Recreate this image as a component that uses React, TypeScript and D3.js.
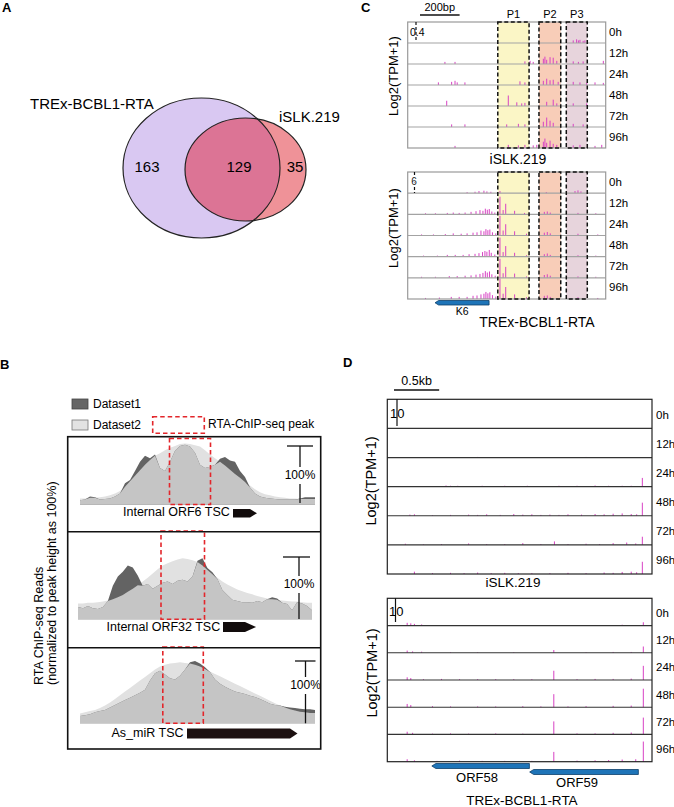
import React from "react";
import * as d3 from "d3";

const FONT = "Arial, 'Liberation Sans', Helvetica, sans-serif";

// ---------- Panel A data ----------
const vennSets = ["TREx-BCBL1-RTA", "iSLK.219"];
const vennCounts = [163, 129, 35]; // TREx only, both, iSLK only

// ---------- Panel B data ----------
const bLegend = ["Dataset1", "Dataset2"];
const bPeakLabel = "RTA-ChIP-seq peak";
const bTrackNames = ["Internal ORF6 TSC", "Internal ORF32 TSC", "As_miR TSC"];
const orf6D1 = [7, 8, 13, 12, 8, 9, 10, 13, 18, 35, 40, 55, 70, 80, 76, 82, 60, 55, 70, 88, 96, 98, 95, 85, 65, 60, 62, 65, 75, 78, 72, 70, 55, 45, 28, 18, 13, 11, 10, 9, 8, 8, 8, 8, 10, 12, 12, 12];
const orf6D2 = [10, 10, 11, 11, 12, 13, 15, 18, 22, 29, 38, 47, 56, 65, 73, 80, 84, 89, 93, 96, 99, 100, 99, 97, 95, 89, 82, 76, 70, 64, 57, 50, 44, 37, 31, 25, 20, 17, 15, 13, 12, 11, 10, 10, 9, 9, 9, 9];
const orf32D1 = [20, 18, 22, 18, 17, 20, 30, 55, 70, 78, 88, 85, 72, 55, 58, 50, 55, 60, 62, 58, 63, 65, 62, 70, 96, 100, 84, 77, 66, 48, 40, 32, 30, 28, 28, 27, 30, 28, 33, 36, 34, 27, 25, 15, 28, 26, 22, 15];
const orf32D2 = [26, 26, 27, 27, 28, 29, 31, 33, 36, 40, 45, 50, 56, 62, 68, 75, 82, 88, 92, 95, 98, 100, 99, 97, 94, 88, 81, 74, 68, 62, 57, 53, 49, 46, 43, 41, 38, 36, 34, 33, 32, 31, 30, 29, 29, 28, 27, 27];
const asmirD1 = [12, 13, 15, 18, 20, 22, 26, 30, 34, 38, 42, 46, 50, 55, 70, 82, 86, 80, 74, 72, 78, 88, 100, 102, 98, 92, 84, 72, 65, 60, 56, 52, 50, 48, 45, 43, 40, 36, 32, 30, 29, 27, 26, 25, 24, 23, 23, 22];
const asmirD2 = [16, 18, 20, 22, 25, 29, 34, 40, 46, 52, 58, 64, 70, 76, 82, 88, 93, 96, 98, 99, 100, 99, 98, 96, 93, 89, 85, 81, 77, 73, 69, 65, 61, 57, 53, 49, 45, 41, 37, 33, 29, 26, 23, 21, 19, 18, 17, 17];

// ---------- Panel C data ----------
const hours = ["0h", "12h", "24h", "48h", "72h", "96h"];
const cPeakNames = ["P1", "P2", "P3"];
const cPeakStart = [455, 663, 801];
const cPeakEnd = [613, 773, 907];
const cSpan = 1000;
const cScaleBp = 200;
const cIslkMax = 0.4;
const cTrexMax = 6;
const cIslk: [number, number][][] = [
  [[836, 0.05], [853, 0.07], [862, 0.05], [870, 0.06], [886, 0.04], [895, 0.05]],
  [[188, 0.04], [239, 0.04], [592, 0.05], [618, 0.06], [634, 0.04], [685, 0.1], [693, 0.14], [702, 0.08], [719, 0.13], [735, 0.12], [753, 0.06], [836, 0.05], [862, 0.04], [886, 0.05], [988, 0.06]],
  [[155, 0.05], [222, 0.06], [239, 0.08], [250, 0.05], [289, 0.05], [567, 0.07], [592, 0.05], [685, 0.08], [702, 0.12], [719, 0.09], [735, 0.1], [760, 0.06], [836, 0.06], [870, 0.05], [904, 0.04], [946, 0.05], [988, 0.04]],
  [[197, 0.1], [508, 0.2], [551, 0.07], [576, 0.05], [592, 0.06], [702, 0.08], [735, 0.12], [753, 0.05], [836, 0.05], [904, 0.05]],
  [[222, 0.05], [289, 0.05], [500, 0.05], [559, 0.06], [592, 0.05], [685, 0.1], [702, 0.18], [719, 0.12], [735, 0.08], [836, 0.06], [886, 0.05]],
  [[239, 0.04], [508, 0.06], [559, 0.05], [592, 0.06], [634, 0.05], [652, 0.06], [685, 0.12], [693, 0.18], [702, 0.1], [719, 0.14], [735, 0.08], [753, 0.06], [836, 0.05], [870, 0.06], [946, 0.04], [980, 0.06]],
];
const cTrex: [number, number][][] = [
  [[300, 0.3], [340, 0.4], [360, 0.6], [385, 0.7], [400, 0.5], [420, 0.4], [466, 0.6], [700, 0.3], [845, 0.6], [860, 0.8], [875, 0.5]],
  [[90, 0.3], [140, 0.3], [200, 0.4], [230, 0.5], [260, 0.4], [290, 0.5], [320, 0.7], [345, 0.9], [365, 1.2], [380, 1.0], [392, 1.6], [402, 1.3], [412, 1.5], [425, 0.8], [440, 0.5], [466, 5.0], [482, 1.2], [495, 3.0], [540, 1.0], [590, 0.4], [690, 0.7], [705, 0.8], [720, 0.5], [860, 0.4], [950, 0.3]],
  [[70, 0.3], [130, 0.3], [190, 0.4], [230, 0.6], [270, 0.5], [300, 0.6], [330, 0.8], [350, 0.9], [370, 1.4], [385, 1.2], [395, 1.8], [405, 1.5], [415, 1.7], [428, 0.9], [445, 0.6], [466, 5.6], [482, 1.4], [495, 3.2], [540, 1.2], [600, 0.5], [690, 0.8], [705, 1.0], [720, 0.6], [860, 0.5], [960, 0.3]],
  [[80, 0.3], [150, 0.3], [200, 0.5], [240, 0.5], [280, 0.5], [310, 0.7], [340, 0.8], [360, 1.0], [378, 1.3], [390, 1.6], [400, 1.4], [412, 1.9], [422, 1.1], [440, 0.6], [466, 5.4], [482, 1.3], [495, 3.0], [540, 1.1], [600, 0.4], [690, 0.7], [705, 0.9], [720, 0.5], [860, 0.4], [950, 0.3]],
  [[70, 0.3], [140, 0.3], [210, 0.5], [250, 0.5], [290, 0.6], [320, 0.7], [345, 0.9], [365, 1.1], [380, 1.4], [392, 1.9], [402, 1.5], [413, 1.8], [425, 1.0], [442, 0.6], [466, 5.4], [482, 1.3], [495, 3.1], [540, 1.2], [600, 0.4], [690, 0.8], [705, 1.0], [720, 0.6], [860, 0.4], [950, 0.3]],
  [[90, 0.3], [160, 0.4], [220, 0.6], [260, 0.6], [300, 0.6], [330, 0.9], [350, 1.0], [370, 1.3], [385, 1.5], [395, 2.0], [405, 1.6], [415, 1.9], [428, 1.1], [445, 0.7], [466, 5.8], [482, 1.5], [495, 3.4], [540, 1.3], [600, 0.5], [690, 0.9], [705, 1.0], [720, 0.6], [860, 0.5], [960, 0.3]],
];
const cGeneName = "K6";
const cGeneStart = 138;
const cGeneEnd = 411;

// ---------- Panel D data ----------
const dSpan = 2930;
const dScaleBp = 500;
const dMax = 10;
const dIslk: [number, number][][] = [
  [],
  [[1000, 0.2], [2200, 0.2]],
  [[650, 0.4], [700, 0.3], [780, 0.3], [1050, 0.3], [1300, 0.3], [1420, 0.2], [1550, 0.3], [1750, 0.2], [1900, 0.3], [2100, 0.3], [2300, 0.4], [2450, 0.3], [2600, 0.3], [2700, 0.3], [2823, 3.0]],
  [[250, 0.4], [300, 0.5], [500, 0.2], [700, 0.3], [900, 0.4], [1000, 0.3], [1100, 0.5], [1250, 0.3], [1400, 0.6], [1500, 0.4], [1600, 0.5], [1700, 0.3], [1800, 0.4], [1900, 0.3], [2000, 0.5], [2150, 0.4], [2300, 0.6], [2400, 0.5], [2500, 0.7], [2600, 0.8], [2700, 0.6], [2760, 0.5], [2823, 4.5]],
  [[200, 0.4], [400, 0.2], [600, 0.3], [900, 0.5], [1100, 0.3], [1300, 0.3], [1500, 0.6], [1700, 0.3], [1850, 1.2], [2000, 0.3], [2200, 0.4], [2350, 0.3], [2500, 0.6], [2650, 0.8], [2750, 0.5], [2823, 2.8]],
  [[300, 0.8], [500, 0.3], [700, 0.4], [850, 0.3], [1000, 0.5], [1150, 0.3], [1300, 0.4], [1450, 0.3], [1600, 0.3], [1800, 0.3], [2000, 0.4], [2200, 0.3], [2400, 0.5], [2500, 0.4], [2600, 0.7], [2700, 0.8], [2760, 0.6], [2823, 4.2]],
];
const dTrex: [number, number][][] = [
  [[220, 1.0], [260, 0.8], [300, 0.6], [380, 0.4], [600, 0.2], [1200, 0.2], [1800, 0.2], [2300, 0.2], [2600, 0.3], [2834, 1.2]],
  [[220, 0.8], [280, 0.5], [380, 0.4], [700, 0.2], [1000, 0.2], [1400, 0.2], [1843, 1.0], [2200, 0.2], [2500, 0.3], [2700, 0.3], [2834, 2.3]],
  [[220, 1.0], [260, 0.7], [400, 0.3], [600, 0.4], [800, 0.3], [1000, 0.3], [1200, 0.3], [1400, 0.3], [1600, 0.3], [1843, 3.4], [2100, 0.3], [2300, 0.4], [2500, 0.4], [2700, 0.5], [2834, 5.2]],
  [[220, 1.2], [260, 0.8], [500, 0.4], [700, 0.3], [1000, 0.3], [1200, 0.3], [1500, 0.4], [1700, 0.3], [1843, 4.8], [2000, 0.3], [2200, 0.4], [2500, 0.5], [2700, 0.6], [2834, 6.8]],
  [[220, 1.0], [280, 0.6], [500, 0.3], [700, 0.4], [900, 0.3], [1200, 0.4], [1500, 0.3], [1843, 4.8], [2100, 0.4], [2300, 0.4], [2500, 0.6], [2700, 0.7], [2834, 6.2]],
  [[220, 0.9], [300, 0.5], [550, 0.3], [800, 0.4], [1050, 0.3], [1300, 0.3], [1600, 0.3], [1843, 3.6], [2100, 0.4], [2300, 0.5], [2450, 0.6], [2600, 0.8], [2750, 0.9], [2834, 7.4]],
];
const dGeneNames = ["ORF58", "ORF59"];
const dGeneStart = [493, 1576];
const dGeneEnd = [1573, 2779];

const SPIKE = "#d842c4";

function leftArrowPath(x0: number, x1: number, y0: number, y1: number) {
  const h = y1 - y0;
  return `M${x0},${(y0 + y1) / 2} L${x0 + h * 0.8},${y0} L${x1},${y0} L${x1},${y1} L${x0 + h * 0.8},${y1} Z`;
}
function rightArrowPath(x0: number, x1: number, head: number, y0: number, y1: number) {
  return `M${x0},${y0} L${head},${y0} L${x1},${(y0 + y1) / 2} L${head},${y1} L${x0},${y1} Z`;
}

function PanelA() {
  const big = { cx: 201.5, cy: 168, rx: 78.5, ry: 70 };
  const small = { cx: 245.5, cy: 169.5, rx: 60.5, ry: 51.5 };
  return (
    <g>
      <defs>
        <clipPath id="bigClip">
          <ellipse {...big} />
        </clipPath>
      </defs>
      <text x={2} y={12} fontSize={13} fontWeight="bold">A</text>
      <ellipse {...big} fill="#d9c8f2" />
      <ellipse {...small} fill="#ef9298" />
      <ellipse {...small} fill="#dc7495" clipPath="url(#bigClip)" />
      <ellipse {...big} fill="none" stroke="#222" strokeWidth={1.2} />
      <ellipse {...small} fill="none" stroke="#222" strokeWidth={1.2} />
      <text x={30} y={109} fontSize={15}>{vennSets[0]}</text>
      <text x={279} y={122} fontSize={15}>{vennSets[1]}</text>
      <text x={147} y={172} fontSize={15} textAnchor="middle">{vennCounts[0]}</text>
      <text x={239} y={172} fontSize={15} textAnchor="middle">{vennCounts[1]}</text>
      <text x={295} y={172} fontSize={15} textAnchor="middle">{vennCounts[2]}</text>
    </g>
  );
}

type BTrack = {
  d1: number[]; d2: number[]; x0: number; x1: number; base: number;
  box: [number, number, number, number];
  label: string; labelX: number; labelY: number;
  gene: [number, number, number, number, number];
  bar: [number, number, number, number, number, number];
};

function TrackB({ t, idx }: { t: BTrack; idx: number }) {
  const n = t.d1.length;
  const x = d3.scaleLinear().domain([0, n - 1]).range([t.x0, t.x1]);
  const y = d3.scaleLinear().domain([0, 100]).range([t.base, t.base - 61]);
  const mk = (arr: number[]) =>
    d3.area<number>().x((_, i) => x(i)).y0(t.base).y1((v) => y(v)).curve(d3.curveLinear)(arr) || "";
  const mins = t.d1.map((v, i) => Math.min(v, t.d2[i]));
  const [bx, cap0, cap1, btop, bbot, ty] = t.bar;
  return (
    <g>
      <path d={mk(t.d2)} fill="#e1e1e1" />
      <path d={mk(t.d1)} fill="#636363" />
      <path d={mk(mins)} fill="#c5c5c5" />
      <rect x={t.box[0]} y={t.box[1]} width={t.box[2] - t.box[0]} height={t.box[3] - t.box[1]}
        fill="none" stroke="#e3262b" strokeWidth={1.6} strokeDasharray="4.5,3" />
      <line x1={cap0} x2={cap1} y1={btop} y2={btop} stroke="#111" strokeWidth={1.3} />
      <line x1={bx} x2={bx} y1={btop} y2={ty - 9} stroke="#111" strokeWidth={1.3} />
      <line x1={bx} x2={bx} y1={ty + 8} y2={bbot} stroke="#111" strokeWidth={1.3} />
      <text x={bx} y={ty} fontSize={12} textAnchor="middle" dominantBaseline="middle">100%</text>
      <text x={t.labelX} y={t.labelY} fontSize={12.5} dominantBaseline="middle">{t.label}</text>
      <path d={rightArrowPath(t.gene[0], t.gene[1], t.gene[2], t.gene[3], t.gene[4])} fill={idx === 2 ? "#1c1010" : "#120c0c"} />
    </g>
  );
}

function PanelB() {
  const tracks: BTrack[] = [
    { d1: orf6D1, d2: orf6D2, x0: 80, x1: 315, base: 504.5, box: [169.5, 438.5, 210.5, 504.5],
      label: bTrackNames[0], labelX: 123, labelY: 513, gene: [233, 257, 250, 509, 517.5],
      bar: [300, 287, 313, 446, 503, 476] },
    { d1: orf32D1, d2: orf32D2, x0: 78, x1: 312, base: 619.3, box: [161, 531, 204.5, 619.3],
      label: bTrackNames[1], labelX: 106.5, labelY: 627.5, gene: [223, 256, 245, 622, 632],
      bar: [299, 283, 310, 557, 619, 585] },
    { d1: asmirD1, d2: asmirD2, x0: 80, x1: 315, base: 723.3, box: [162.8, 647, 203.3, 723.3],
      label: bTrackNames[2], labelX: 111.5, labelY: 733.5, gene: [187, 297.5, 290, 728.5, 738.5],
      bar: [305.5, 295, 315.5, 661, 723.3, 686] },
  ];
  return (
    <g>
      <text x={0} y={369} fontSize={13} fontWeight="bold">B</text>
      <rect x={72} y={399} width={16} height={10} fill="#666" stroke="#444" strokeWidth={0.8} />
      <rect x={72} y={420} width={16} height={10} fill="#e2e2e2" stroke="#777" strokeWidth={0.8} />
      <text x={93} y={404.5} fontSize={12} dominantBaseline="middle">{bLegend[0]}</text>
      <text x={93} y={425.5} fontSize={12} dominantBaseline="middle">{bLegend[1]}</text>
      <rect x={152.7} y={416.7} width={51.6} height={16.6} fill="none" stroke="#e3262b" strokeWidth={1.6} strokeDasharray="4.5,3" />
      <text x={208} y={425} fontSize={12} dominantBaseline="middle">{bPeakLabel}</text>
      {tracks.map((t, i) => <TrackB key={i} t={t} idx={i} />)}
      <rect x={67.7} y={436.7} width={253} height={312.3} fill="none" stroke="#111" strokeWidth={1.6} />
      <line x1={67.7} x2={320.7} y1={531.7} y2={531.7} stroke="#111" strokeWidth={1.6} />
      <line x1={67.7} x2={320.7} y1={647.7} y2={647.7} stroke="#111" strokeWidth={1.6} />
      <text transform="translate(40,685) rotate(-90)" fontSize={12.5} dominantBaseline="middle">RTA ChIP-seq Reads</text>
      <text transform="translate(52.5,685) rotate(-90)" fontSize={12.5} dominantBaseline="middle">(normalized to peak height as 100%)</text>
    </g>
  );
}

type SpikeCfg = {
  x0: number; x1: number; top: number; bottom: number; span: number; max: number;
  rows: [number, number][][]; rowColor: string; borderColor: string; rowWidth: number;
  labelX: number; labelDy: number; labelSize: number;
};

function SpikeTrack({ c, children }: { c: SpikeCfg; children?: React.ReactNode }) {
  const x = d3.scaleLinear().domain([0, c.span]).range([c.x0, c.x1]);
  const band = d3.scaleBand<string>().domain(hours).range([c.top, c.bottom]).padding(0);
  const rh = band.bandwidth();
  return (
    <g>
      {children}
      {hours.map((h, r) => {
        const yb = (band(h) || 0) + rh;
        const y = d3.scaleLinear().domain([0, c.max]).range([yb, yb - rh]);
        return (
          <g key={h}>
            {c.rows[r].map(([p, v], k) => (
              <line key={k} x1={x(p)} x2={x(p)} y1={yb} y2={y(v)} stroke={SPIKE} strokeWidth={1} />
            ))}
            {r < hours.length - 1 && (
              <line x1={c.x0} x2={c.x1} y1={yb} y2={yb} stroke={c.rowColor} strokeWidth={c.rowWidth} />
            )}
            <text x={c.labelX} y={(band(h) || 0) + rh / 2 + c.labelDy} fontSize={c.labelSize} dominantBaseline="middle">{h}</text>
          </g>
        );
      })}
      <rect x={c.x0} y={c.top} width={c.x1 - c.x0} height={c.bottom - c.top} fill="none" stroke={c.borderColor} strokeWidth={c.rowWidth} />
    </g>
  );
}

function PeakBoxes({ x0, x1, top, bottom, fill }: { x0: number; x1: number; top: number; bottom: number; fill: boolean }) {
  const x = d3.scaleLinear().domain([0, cSpan]).range([x0, x1]);
  const colors = ["#fbf6c6", "#f8cdb8", "#e7d4dc"];
  return (
    <g>
      {cPeakNames.map((p, i) => (
        fill ? <rect key={p} x={x(cPeakStart[i])} y={top} width={x(cPeakEnd[i]) - x(cPeakStart[i])} height={bottom - top} fill={colors[i]} />
          : <rect key={p} x={x(cPeakStart[i])} y={top} width={x(cPeakEnd[i]) - x(cPeakStart[i])} height={bottom - top} fill="none" stroke="#111" strokeWidth={1.5} strokeDasharray="4,2.5" />
      ))}
    </g>
  );
}

function PanelC() {
  const x0 = 407.7, x1 = 605.7;
  const x = d3.scaleLinear().domain([0, cSpan]).range([x0, x1]);
  const up = { top: 22, bottom: 148 };
  const lo = { top: 172, bottom: 299 };
  const base = { x0, x1, span: cSpan, rowColor: "#a3a3a3", borderColor: "#9a9a9a", rowWidth: 1.2, labelX: 609, labelDy: 0, labelSize: 11.5 };
  return (
    <g>
      <text x={361} y={12} fontSize={13} fontWeight="bold">C</text>
      <line x1={x(0) + 12.3} x2={x(cScaleBp) + 12.3} y1={15} y2={15} stroke="#111" strokeWidth={1.3} />
      <text x={(x(0) + x(cScaleBp)) / 2 + 12.3} y={8} fontSize={11} textAnchor="middle" dominantBaseline="middle">{cScaleBp}bp</text>
      {cPeakNames.map((p, i) => (
        <text key={p} x={(x(cPeakStart[i]) + x(cPeakEnd[i])) / 2} y={15.5} fontSize={11} textAnchor="middle" dominantBaseline="middle">{p}</text>
      ))}
      <SpikeTrack c={{ ...base, ...up, max: cIslkMax, rows: cIslk }}>
        <PeakBoxes x0={x0} x1={x1} top={up.top} bottom={up.bottom} fill={true} />
      </SpikeTrack>
      <PeakBoxes x0={x0} x1={x1} top={up.top} bottom={up.bottom} fill={false} />
      <line x1={416} x2={416} y1={22} y2={42} stroke="#111" strokeWidth={1.2} strokeDasharray="3,2" />
      <text x={410} y={33} fontSize={10.5} dominantBaseline="middle">{cIslkMax}</text>
      <text transform="translate(395,76) rotate(-90)" fontSize={13} textAnchor="middle" dominantBaseline="middle">Log2(TPM+1)</text>
      <text x={518} y={160} fontSize={14} textAnchor="middle" dominantBaseline="middle">iSLK.219</text>

      <SpikeTrack c={{ ...base, ...lo, max: cTrexMax, rows: cTrex }}>
        <PeakBoxes x0={x0} x1={x1} top={lo.top} bottom={lo.bottom} fill={true} />
      </SpikeTrack>
      <PeakBoxes x0={x0} x1={x1} top={lo.top} bottom={lo.bottom} fill={false} />
      <line x1={414.5} x2={414.5} y1={172} y2={193} stroke="#111" strokeWidth={1.2} strokeDasharray="3,2" />
      <text x={414} y={182} fontSize={10} textAnchor="middle" dominantBaseline="middle" fill="#222" stroke="#fff" strokeWidth={2} paintOrder="stroke">{cTrexMax}</text>
      <text transform="translate(395,228) rotate(-90)" fontSize={13} textAnchor="middle" dominantBaseline="middle">Log2(TPM+1)</text>
      <path d={leftArrowPath(x(cGeneStart), x(cGeneEnd), 300.5, 305)} fill="#1e74b8" stroke="#0d3f6a" strokeWidth={0.8} />
      <text x={(x(cGeneStart) + x(cGeneEnd)) / 2} y={312} fontSize={10.5} textAnchor="middle" dominantBaseline="middle">{cGeneName}</text>
      <text x={537} y={323.5} fontSize={14} textAnchor="middle" dominantBaseline="middle">TREx-BCBL1-RTA</text>
    </g>
  );
}

function PanelD() {
  const x0 = 387.3, x1 = 652;
  const x = d3.scaleLinear().domain([0, dSpan]).range([x0, x1]);
  const base = { x0, x1, span: dSpan, max: dMax, rowColor: "#333", borderColor: "#222", rowWidth: 1.2, labelX: 656, labelDy: 2, labelSize: 11.5 };
  return (
    <g>
      <text x={343} y={367} fontSize={13} fontWeight="bold">D</text>
      <line x1={394} x2={394 + (x(dScaleBp) - x(0))} y1={390} y2={390} stroke="#111" strokeWidth={1.3} />
      <text x={394 + (x(dScaleBp) - x(0)) / 2} y={382} fontSize={12.5} textAnchor="middle" dominantBaseline="middle">{dScaleBp / 1000}kb</text>
      <SpikeTrack c={{ ...base, top: 399.3, bottom: 574, rows: dIslk }} />
      <line x1={397} x2={397} y1={399.3} y2={426} stroke="#111" strokeWidth={1.2} />
      <text x={390} y={415} fontSize={13} dominantBaseline="middle">{dMax}</text>
      <text transform="translate(372,481) rotate(-90)" fontSize={14.5} textAnchor="middle" dominantBaseline="middle">Log2(TPM+1)</text>
      <text x={513} y={583} fontSize={13.5} textAnchor="middle" dominantBaseline="middle">iSLK.219</text>

      <SpikeTrack c={{ ...base, top: 598.3, bottom: 761.7, rows: dTrex }} />
      <line x1={395.5} x2={395.5} y1={598.3} y2={622} stroke="#111" strokeWidth={1.2} />
      <text x={389} y={613} fontSize={13} dominantBaseline="middle">{dMax}</text>
      <text transform="translate(373,673) rotate(-90)" fontSize={14.5} textAnchor="middle" dominantBaseline="middle">Log2(TPM+1)</text>
      <path d={leftArrowPath(x(dGeneStart[0]), x(dGeneEnd[0]), 763.5, 768.5)} fill="#1e74b8" stroke="#0d3f6a" strokeWidth={0.8} />
      <path d={leftArrowPath(x(dGeneStart[1]), x(dGeneEnd[1]), 769.5, 774.5)} fill="#1e74b8" stroke="#0d3f6a" strokeWidth={0.8} />
      <text x={477} y={778.5} fontSize={13} textAnchor="middle" dominantBaseline="middle">{dGeneNames[0]}</text>
      <text x={577} y={783.5} fontSize={13} textAnchor="middle" dominantBaseline="middle">{dGeneNames[1]}</text>
      <text x={522} y={801} fontSize={13.5} textAnchor="middle" dominantBaseline="middle">TREx-BCBL1-RTA</text>
    </g>
  );
}

export default function App() {
  return (
    <svg width={674} height={807} style={{ position: "absolute", left: 0, top: 0, background: "#fff" }} fontFamily={FONT}>
      <rect width={674} height={807} fill="#fff" />
      <PanelA />
      <PanelB />
      <PanelC />
      <PanelD />
    </svg>
  );
}
